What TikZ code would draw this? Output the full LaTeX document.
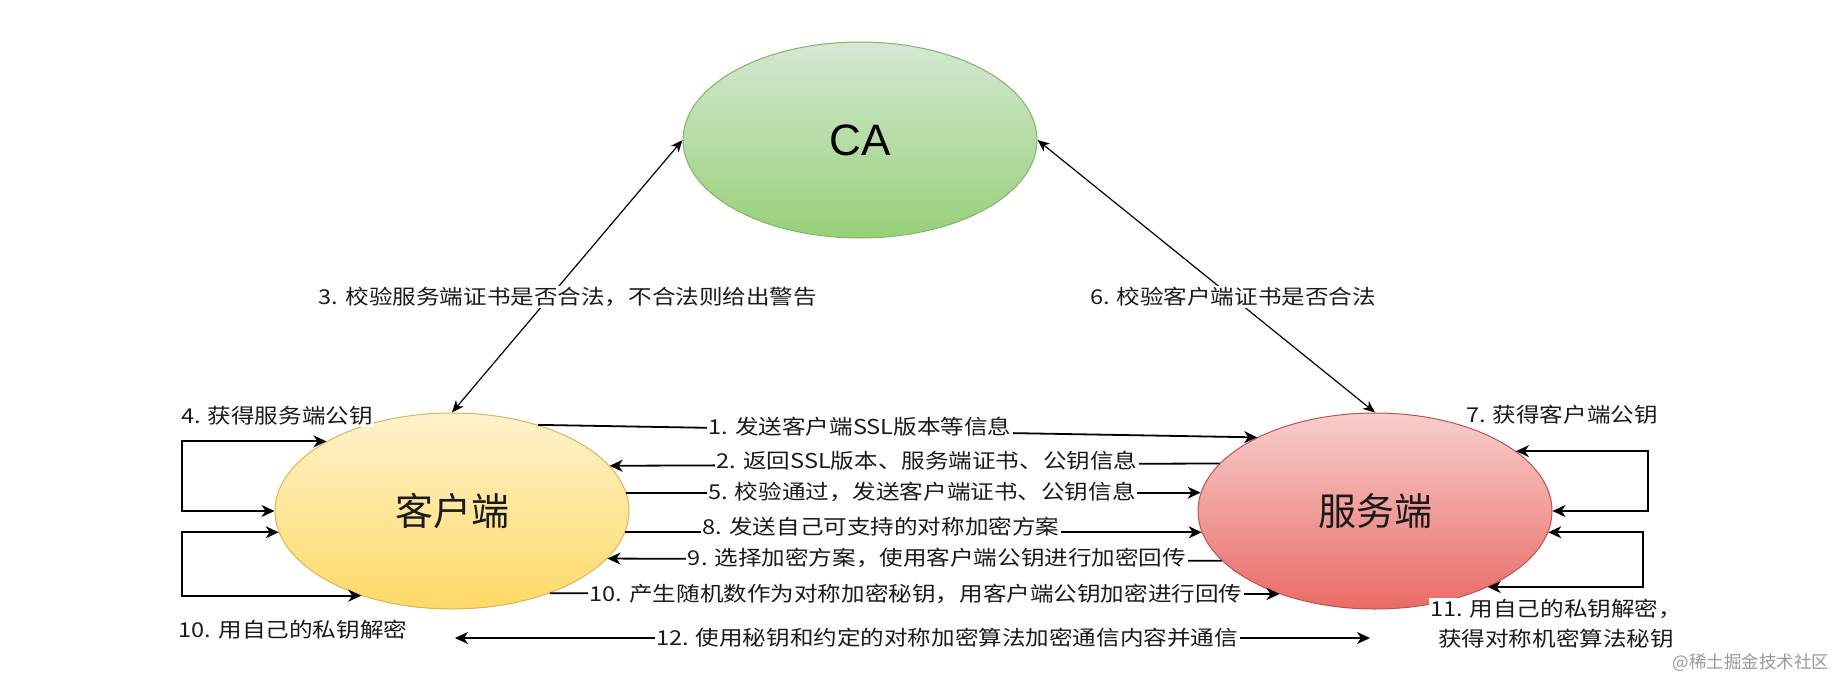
\documentclass[tikz,border=0pt]{standalone}
\usepackage{fontspec}
\usetikzlibrary{arrows.meta,shapes.geometric}
\newfontfamily\cjk[FakeStretch=1.15]{Noto Sans CJK SC}
\newfontfamily\cjkbig{Noto Sans CJK SC}
\newfontfamily\latfont{Liberation Sans}
\definecolor{caTop}{HTML}{D5E8D4}
\definecolor{caBot}{HTML}{97D077}
\definecolor{caLine}{HTML}{82B366}
\definecolor{clTop}{HTML}{FFF2CC}
\definecolor{clBot}{HTML}{FFD966}
\definecolor{clLine}{HTML}{D6B656}
\definecolor{svTop}{HTML}{F8CECC}
\definecolor{svBot}{HTML}{EA6B66}
\definecolor{svLine}{HTML}{B85450}
\definecolor{txt}{HTML}{1A1A1A}
\begin{document}
\begin{tikzpicture}[x=1pt,y=-1pt,
  party/.style={ellipse, minimum width=354pt, minimum height=196pt, inner sep=0pt, line width=1pt},
  lbl/.style={fill=white, inner sep=1.5pt, text=txt, font=\cjk\fontsize{20.5}{30}\selectfont},
  flow/.style={line width=1.8pt, >={Stealth[length=13pt,width=12pt,inset=4pt]}},
  diag/.style={line width=1.2pt, >={Stealth[length=12pt,width=10pt,inset=3.5pt]}}]
\useasboundingbox (0,0) rectangle (1838,680);
\fill[white] (0,0) rectangle (1838,680);

% main nodes
\node[party, draw=caLine, top color=caTop, bottom color=caBot] (ca) at (860,140) {};
\node[party, draw=clLine, top color=clTop, bottom color=clBot] (client) at (452,511) {};
\node[party, draw=svLine, top color=svTop, bottom color=svBot] (server) at (1375,511) {};
\node[font=\latfont\fontsize{44}{50}\selectfont, text=black] (catext) at (ca.center) {CA};
\node[font=\cjkbig\fontsize{38}{44}\selectfont, text=txt] (cltext) at (client.center) {客户端};
\node[font=\cjkbig\fontsize{38}{44}\selectfont, text=txt] (svtext) at (server.center) {服务端};

% loop corners and free ends
\coordinate (l4) at (182,477);
\coordinate (l10) at (182,565);
\coordinate (r7) at (1648,482);
\coordinate (r11) at (1643,561);
\coordinate (c12l) at (455,638);
\coordinate (c12r) at (1370,638);

% diagonals to CA
\draw[diag,<->] (ca.west) -- (client.north);
\draw[diag,<->] (ca.east) -- (server.north);

% horizontal messages
\draw[flow,->] (client.45) -- (server.148);
\draw[flow,<-] (client.16) -- (server.163);
\draw[flow,->] (client.6) -- (server.174);
\draw[flow,->] (client.-7) -- (server.187);
\draw[flow,<-] (client.-17) -- (server.198);
\draw[flow,->] (client.-40) -- (server.221);
\draw[flow,<->] (c12l) -- (c12r);

% self loops
\draw[flow,<->] (client.151) -| (l4) |- (client.west);
\draw[flow,<->] (client.187) -| (l10) |- (client.223);
\draw[flow,<->] (server.23) -| (r7) |- (server.east);
\draw[flow,<->] (server.-7) -| (r11) |- (server.-34);

% labels
\node[lbl] (t3) at (568,297) {3. 校验服务端证书是否合法，不合法则给出警告};
\node[lbl] (t6) at (1233,297) {6. 校验客户端证书是否合法};
\node[lbl] (t4) at (277,416) {4. 获得服务端公钥};
\node[lbl] (t7) at (1562,415) {7. 获得客户端公钥};
\node[lbl] (t1) at (860,427) {1. 发送客户端SSL版本等信息};
\node[lbl] (t2) at (927,461) {2. 返回SSL版本、服务端证书、公钥信息};
\node[lbl] (t5) at (922,492) {5. 校验通过，发送客户端证书、公钥信息};
\node[lbl] (t8) at (881,527) {8. 发送自己可支持的对称加密方案};
\node[lbl] (t9) at (937,558) {9. 选择加密方案，使用客户端公钥进行加密回传};
\node[lbl] (t10) at (916,594) {10. 产生随机数作为对称加密秘钥，用客户端公钥加密进行回传};
\node[lbl] (t12) at (947,638) {12. 使用秘钥和约定的对称加密算法加密通信内容并通信};
\node[lbl] (t10b) at (293,630) {10. 用自己的私钥解密};
\node[lbl, align=center] (t11) at (1556,624) {11. 用自己的私钥解密，\\获得对称机密算法秘钥};
\node[font=\cjkbig\fontsize{17.5}{20}\selectfont, text=black!40, inner sep=0pt] (wm) at (1751,663) {@稀土掘金技术社区};
\end{tikzpicture}
\end{document}
